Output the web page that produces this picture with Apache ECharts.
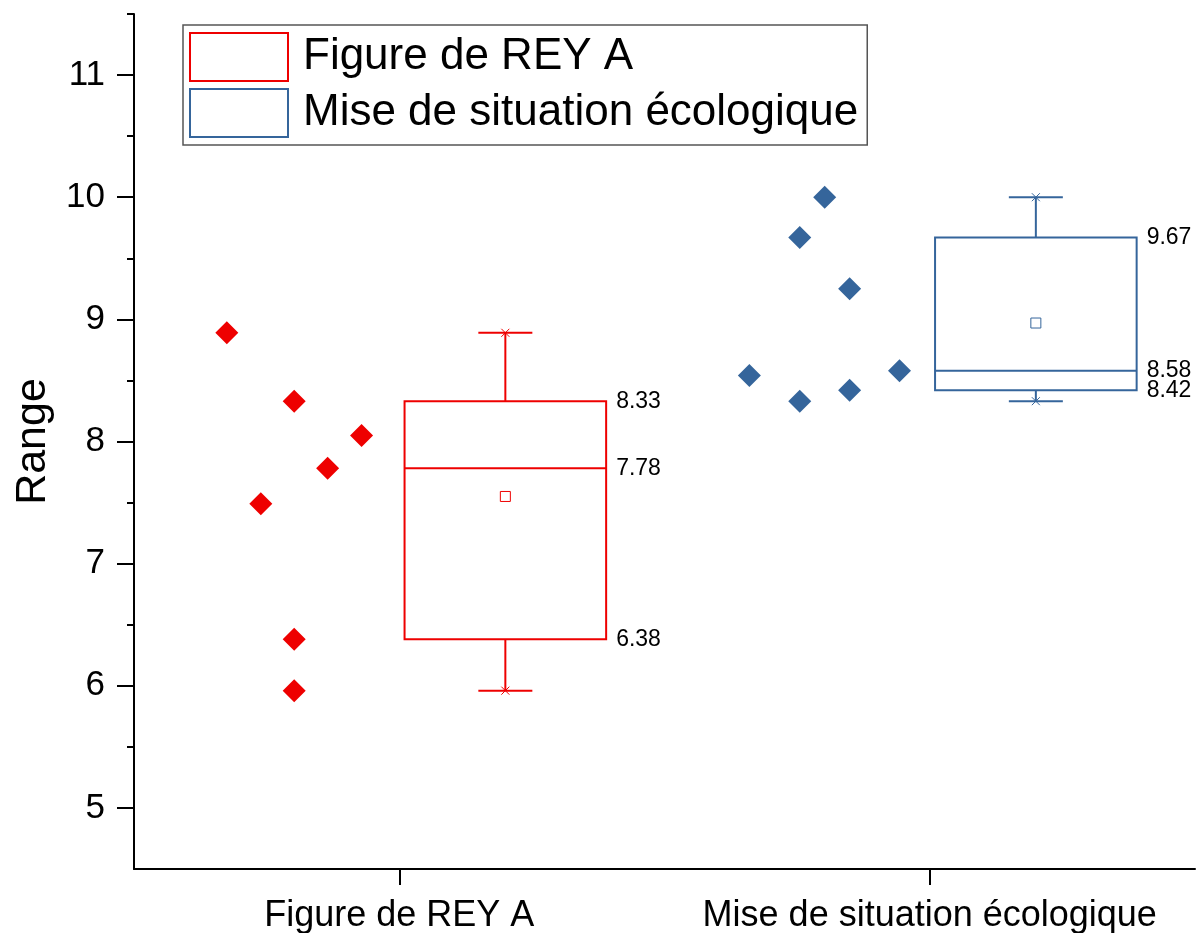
<!DOCTYPE html>
<html>
<head>
<meta charset="utf-8">
<script src="https://cdn.jsdelivr.net/npm/echarts@6/dist/echarts.min.js"></script>
<style>
    html, body { margin: 0; padding: 0; background: #fff; }
    #main { width: 1204px; height: 933px; }
</style>
</head>
<body>
<div id="main"></div>
<script>
    var categories = ['Figure de REY A', 'Mise de situation écologique'];
    // raw points [x position, value]
    var reyPoints = [[0.175, 8.89], [0.302, 8.33], [0.429, 8.05], [0.365, 7.78], [0.239, 7.49], [0.302, 6.38], [0.302, 5.96]];
    var ecoPoints = [[1.302, 10.00], [1.255, 9.67], [1.349, 9.25], [1.160, 8.54], [1.443, 8.58], [1.349, 8.42], [1.255, 8.33]];
    // min, Q1, median, Q3, max
    var reyBox = [5.96, 6.38, 7.78, 8.33, 8.89];
    var ecoBox = [8.33, 8.42, 8.58, 9.67, 10.00];
    var means = [7.55, 8.97];
    var yTicks = [5, 6, 7, 8, 9, 10, 11];
    var yMinorTicks = [5.5, 6.5, 7.5, 8.5, 9.5, 10.5, 11.5];

    var RED = '#ee0000';
    var BLUE = '#35659b';
    var FONT = '"Liberation Sans", Arial, sans-serif';
    var BOX_SHIFT = 0.2;   // box sits right of category centre
    var BOX_HALF = 0.19;   // half box width (x units)

    function renderBox(color) {
        return function (params, api) {
            var cx = api.value(0);
            var pMin = api.coord([cx, api.value(1)]);
            var pQ1 = api.coord([cx, api.value(2)]);
            var pMed = api.coord([cx, api.value(3)]);
            var pQ3 = api.coord([cx, api.value(4)]);
            var pMax = api.coord([cx, api.value(5)]);
            var pMean = api.coord([cx, api.value(6)]);
            var xl = api.coord([cx - BOX_HALF, 0])[0];
            var xr = api.coord([cx + BOX_HALF, 0])[0];
            var x = pMed[0];
            var cap = 27, m = 4;
            var ls = {stroke: color, lineWidth: 2, fill: null};
            var thin = {stroke: color, lineWidth: 1};
            var lbl = function (p, v) {
                return {
                    type: 'text',
                    style: {
                        x: xr + 10, y: p[1], text: v.toFixed(2),
                        fill: '#000', font: '23px ' + FONT,
                        verticalAlign: 'middle', align: 'left'
                    }
                };
            };
            return {
                type: 'group',
                children: [
                    {type: 'line', shape: {x1: x, y1: pQ3[1], x2: x, y2: pMax[1]}, style: ls},
                    {type: 'line', shape: {x1: x, y1: pQ1[1], x2: x, y2: pMin[1]}, style: ls},
                    {type: 'line', shape: {x1: x - cap, y1: pMax[1], x2: x + cap, y2: pMax[1]}, style: ls},
                    {type: 'line', shape: {x1: x - cap, y1: pMin[1], x2: x + cap, y2: pMin[1]}, style: ls},
                    {type: 'line', shape: {x1: x - m, y1: pMax[1] - m, x2: x + m, y2: pMax[1] + m}, style: thin},
                    {type: 'line', shape: {x1: x - m, y1: pMax[1] + m, x2: x + m, y2: pMax[1] - m}, style: thin},
                    {type: 'line', shape: {x1: x - m, y1: pMin[1] - m, x2: x + m, y2: pMin[1] + m}, style: thin},
                    {type: 'line', shape: {x1: x - m, y1: pMin[1] + m, x2: x + m, y2: pMin[1] - m}, style: thin},
                    {type: 'rect', shape: {x: xl, y: pQ3[1], width: xr - xl, height: pQ1[1] - pQ3[1]}, style: ls},
                    {type: 'line', shape: {x1: xl, y1: pMed[1], x2: xr, y2: pMed[1]}, style: ls},
                    {type: 'rect', shape: {x: x - 5, y: pMean[1] - 5, width: 10, height: 10}, style: {stroke: color, lineWidth: 1, fill: '#fff'}},
                    lbl(pQ3, api.value(4)),
                    lbl(pMed, api.value(3)),
                    lbl(pQ1, api.value(2))
                ]
            };
        };
    }

    function boxRow(i, box) {
        return [i + 0.5 + BOX_SHIFT].concat(box).concat([means[i]]);
    }

    var myChart = echarts.init(document.getElementById('main'));
    myChart.setOption({
        animation: false,
        textStyle: {fontFamily: FONT},
        grid: {left: 134, right: 9, top: 14, bottom: 64, containLabel: false, outerBoundsMode: 'none'},
        legend: {
            orient: 'vertical',
            left: 183,
            top: 25,
            padding: [7, 9, 7, 6],
            itemGap: 6,
            itemWidth: 98,
            itemHeight: 48,
            borderColor: '#555',
            borderWidth: 1.5,
            selectedMode: false,
            textStyle: {fontSize: 44, color: '#000', padding: [0, 0, 0, 10]},
            data: [
                {name: categories[0], icon: 'rect', itemStyle: {color: 'transparent', borderColor: RED, borderWidth: 2}},
                {name: categories[1], icon: 'rect', itemStyle: {color: 'transparent', borderColor: BLUE, borderWidth: 2}}
            ]
        },
        xAxis: [
            {
                type: 'category',
                data: categories,
                axisLine: {lineStyle: {color: '#000', width: 2}},
                axisTick: {show: true, interval: 0, alignWithLabel: true, length: 16, lineStyle: {color: '#000', width: 2}},
                axisLabel: {interval: 0, fontSize: 36, color: '#000', margin: 29},
                splitLine: {show: false}
            },
            {
                type: 'value',
                min: 0,
                max: 2,
                show: false
            }
        ],
        yAxis: [
            {
                type: 'value',
                min: 4.5,
                max: 11.5,
                name: 'Range',
                nameLocation: 'middle',
                nameGap: 79,
                nameTextStyle: {fontSize: 43, color: '#000'},
                axisLine: {show: true, lineStyle: {color: '#000', width: 2}},
                axisTick: {show: true, length: 17, customValues: yTicks, lineStyle: {color: '#000', width: 2}},
                axisLabel: {fontSize: 35, color: '#000', margin: 29, customValues: yTicks},
                splitLine: {show: false}
            },
            {
                type: 'value',
                min: 4.5,
                max: 11.5,
                position: 'left',
                axisLine: {show: false},
                axisTick: {show: true, length: 7, customValues: yMinorTicks, lineStyle: {color: '#000', width: 2}},
                axisLabel: {show: false},
                splitLine: {show: false}
            }
        ],
        series: [
            {
                name: categories[0],
                type: 'scatter',
                xAxisIndex: 1,
                symbol: 'diamond',
                symbolSize: 23,
                itemStyle: {color: RED, opacity: 1},
                data: reyPoints
            },
            {
                name: categories[1],
                type: 'scatter',
                xAxisIndex: 1,
                symbol: 'diamond',
                symbolSize: 23,
                itemStyle: {color: BLUE, opacity: 1},
                data: ecoPoints
            },
            {
                name: categories[0],
                type: 'custom',
                xAxisIndex: 1,
                renderItem: renderBox(RED),
                encode: {x: 0, y: [1, 2, 3, 4, 5, 6]},
                data: [boxRow(0, reyBox)]
            },
            {
                name: categories[1],
                type: 'custom',
                xAxisIndex: 1,
                renderItem: renderBox(BLUE),
                encode: {x: 0, y: [1, 2, 3, 4, 5, 6]},
                data: [boxRow(1, ecoBox)]
            }
        ]
    });
</script>
</body>
</html>
